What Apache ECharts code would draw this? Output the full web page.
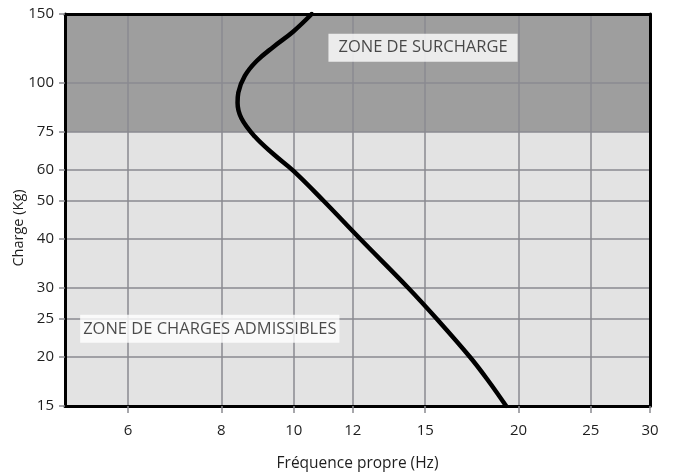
<!DOCTYPE html>
<html>
<head>
<meta charset="utf-8">
<script src="https://cdn.jsdelivr.net/npm/echarts@6/dist/echarts.min.js"></script>
<style>
  html, body { margin: 0; padding: 0; background: #ffffff; }
  #chart { width: 677px; height: 472px; }
</style>
</head>
<body>
<div id="chart"></div>
<script>
// Natural frequency (Hz) vs load (kg) curve, both on log scales
const freqHz = [10.57, 9.98, 9.40, 8.92, 8.60, 8.43, 8.41, 8.51, 8.87, 9.40, 10.0, 10.97, 12.28, 14.24, 15.55, 17.22, 18.18, 19.25];
const loadKg = [150, 135.2, 123.8, 113.8, 104.3, 94.5, 89.0, 81.3, 73.0, 65.8, 59.6, 50, 40, 30, 25, 20, 17.5, 15];

// Axis tick values
const freqTicks = [6, 8, 10, 12, 15, 20, 25, 30];
const loadTicks = [15, 20, 25, 30, 40, 50, 60, 75, 100, 150];

// Overload zone bounds (kg)
const overloadFrom = 75;
const overloadTo = 150;

// Zone captions with their anchor points [Hz, kg]
const zoneLabels = ['ZONE DE SURCHARGE', 'ZONE DE CHARGES ADMISSIBLES'];
const zoneAnchors = [[14.9, 123.1], [7.72, 23.6]];

const FONT = '"Open Sans", "DejaVu Sans", sans-serif';
const TEXT = '#1e1e1e';
const GRIDLINE = '#8a8a90';

const chart = echarts.init(document.getElementById('chart'), null, { renderer: 'canvas' });

const xMin = 4.94, xMax = 30, yMin = 15, yMax = 150;

const option = {
  animation: false,
  backgroundColor: '#ffffff',
  grid: {
    left: 65, right: 27, top: 14, bottom: 66,
    outerBoundsMode: 'none', containLabel: false,
    show: true, backgroundColor: '#e3e3e3', borderWidth: 0
  },
  xAxis: [{
    type: 'log', min: xMin, max: xMax, logBase: 10,
    name: 'Fréquence propre (Hz)', nameLocation: 'middle', nameGap: 50,
    nameMoveOverlap: false,
    nameTextStyle: { fontFamily: FONT, fontSize: 15.5, color: TEXT },
    axisLine: { show: true, onZero: false, lineStyle: { color: '#000', width: 3 } },
    axisTick: { show: true, customValues: freqTicks, length: 7, lineStyle: { color: GRIDLINE, width: 1.5 } },
    axisLabel: { customValues: freqTicks, margin: 17, fontFamily: FONT, fontSize: 15, color: TEXT, formatter: v => String(v) },
    splitLine: { show: true, lineStyle: { color: GRIDLINE, width: 1.5 } },
    z: 3
  }, {
    type: 'log', min: xMin, max: xMax, position: 'top',
    axisLine: { show: true, onZero: false, lineStyle: { color: '#000', width: 3 } },
    axisTick: { show: false }, axisLabel: { show: false }, splitLine: { show: false },
    z: 3
  }],
  yAxis: [{
    type: 'log', min: yMin, max: yMax, logBase: 10,
    name: 'Charge (Kg)', nameLocation: 'middle', nameGap: 39, nameRotate: 90,
    nameMoveOverlap: false,
    nameTextStyle: { fontFamily: FONT, fontSize: 14.5, color: TEXT, padding: [0, 36, 0, 0] },
    axisLine: { show: true, onZero: false, lineStyle: { color: '#000', width: 3 } },
    axisTick: { show: true, customValues: loadTicks, length: 6, lineStyle: { color: GRIDLINE, width: 1.5 } },
    axisLabel: { customValues: loadTicks, margin: 11, fontFamily: FONT, fontSize: 15, color: TEXT, formatter: v => String(v) },
    splitLine: { show: true, lineStyle: { color: GRIDLINE, width: 1.5 } },
    z: 3
  }, {
    type: 'log', min: yMin, max: yMax, position: 'right',
    axisLine: { show: true, onZero: false, lineStyle: { color: '#000', width: 3 } },
    axisTick: { show: false }, axisLabel: { show: false }, splitLine: { show: false },
    z: 3
  }],
  series: [
    {
      // shaded overload band
      type: 'line', data: [], z: 1, silent: true,
      markArea: {
        silent: true,
        itemStyle: { color: '#9e9e9e' },
        data: [[{ yAxis: overloadFrom }, { yAxis: overloadTo }]]
      }
    },
    {
      type: 'line',
      data: freqHz.map((f, i) => [f, loadKg[i]]),
      smooth: 0.4,
      showSymbol: false,
      lineStyle: { color: '#000000', width: 4.5, cap: 'round', join: 'round' },
      z: 5
    },
    {
      type: 'scatter',
      symbolSize: 0,
      z: 6,
      data: zoneAnchors.map((p, i) => ({
        value: p,
        name: zoneLabels[i],
        label: { padding: i === 0 ? [6, 10, 5, 10] : [6, 3, 5, 3] }
      })),
      label: {
        show: true, position: 'inside',
        formatter: p => p.name,
        fontFamily: FONT, fontSize: 16.5, color: TEXT,
        backgroundColor: '#ffffff'
      }
    }
  ]
};

chart.setOption(option);
</script>
</body>
</html>
